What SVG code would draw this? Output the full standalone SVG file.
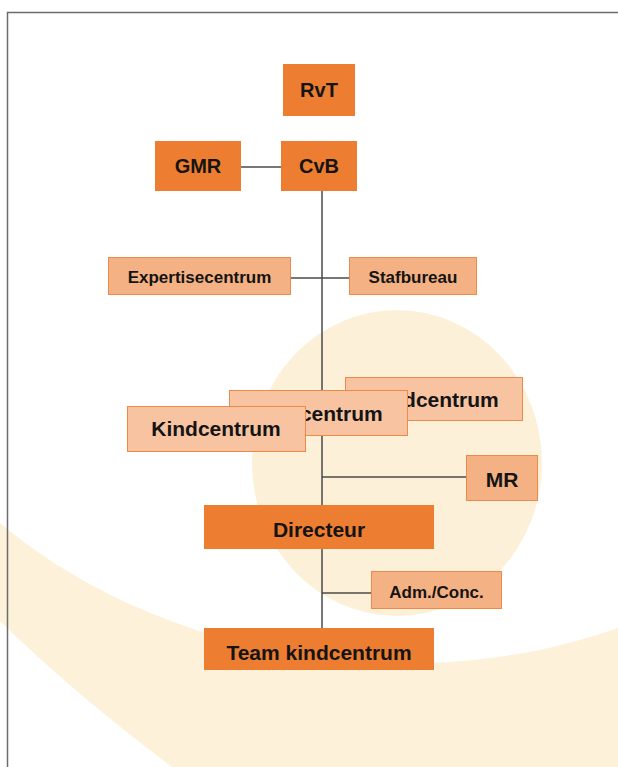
<svg xmlns="http://www.w3.org/2000/svg" width="618" height="767" viewBox="0 0 618 767">
<style>
.dark{fill:#ED7D31;}
.light{fill:#F4B183;stroke:#EE8A48;stroke-width:1;}
.kc{fill:#F7C3A0;stroke:#EE8A48;stroke-width:1;}
.t{font-family:"Liberation Sans",Arial,sans-serif;font-weight:bold;fill:#141414;text-anchor:middle;}
.big{font-size:21px;}
.top{font-size:20px;}
.small{font-size:17px;}
.conn line{stroke:#4a4a4a;stroke-width:1.5;}
</style>
<rect x="0" y="0" width="618" height="767" fill="#ffffff"/>
<g id="background">
<ellipse cx="397" cy="463" rx="145" ry="153" fill="#FDF0D8"/>
<path d="M0,523 C150,650 400,705 618,628 L618,767 L172,767 Q70,690 0,621 Z" fill="#FDF1DA"/>
</g>
<g id="frame" fill="none" stroke="#6b6b6b" stroke-width="1.5">
<path d="M7.5,767 L7.5,12.5 L618,12.5"/>
</g>
<g id="connectors" class="conn">
<line x1="241" y1="167" x2="281" y2="167"/>
<line x1="322" y1="191" x2="322" y2="628"/>
<line x1="291" y1="278" x2="349" y2="278"/>
<line x1="322" y1="477" x2="466" y2="477"/>
<line x1="322" y1="593" x2="371" y2="593"/>
</g>
<g id="rvt"><rect class="dark" x="283" y="64" width="72" height="52"/><text class="t top" x="319" y="97">RvT</text></g>
<g id="gmr"><rect class="dark" x="155" y="141" width="86" height="50"/><text class="t top" x="198" y="173">GMR</text></g>
<g id="cvb"><rect class="dark" x="281" y="141" width="76" height="50"/><text class="t top" x="319" y="173">CvB</text></g>
<g id="expertisecentrum"><rect class="light" x="108.5" y="257.5" width="182" height="37"/><text class="t small" x="199.5" y="283">Expertisecentrum</text></g>
<g id="stafbureau"><rect class="light" x="349.5" y="257.5" width="127" height="37"/><text class="t small" x="413" y="283">Stafbureau</text></g>
<g id="kindcentrum3"><rect class="kc" x="345.5" y="377.5" width="177" height="43"/><text class="t big" x="434" y="407">Kindcentrum</text></g>
<g id="kindcentrum2"><rect class="kc" x="229.5" y="390.5" width="178" height="45"/><text class="t big" x="318" y="421">Kindcentrum</text></g>
<g id="kindcentrum1"><rect class="kc" x="127.5" y="406.5" width="178" height="45"/><text class="t big" x="216" y="436">Kindcentrum</text></g>
<g id="mr"><rect class="light" x="466.5" y="455.5" width="71" height="45"/><text class="t big" x="502" y="487">MR</text></g>
<g id="directeur"><rect class="dark" x="204" y="505" width="230" height="44"/><text class="t big" x="319" y="537">Directeur</text></g>
<g id="admconc"><rect class="light" x="371.5" y="571.5" width="130" height="37"/><text class="t small" x="436.5" y="598">Adm./Conc.</text></g>
<g id="team"><rect class="dark" x="204" y="628" width="230" height="42"/><text class="t big" x="319" y="660">Team kindcentrum</text></g>
</svg>
